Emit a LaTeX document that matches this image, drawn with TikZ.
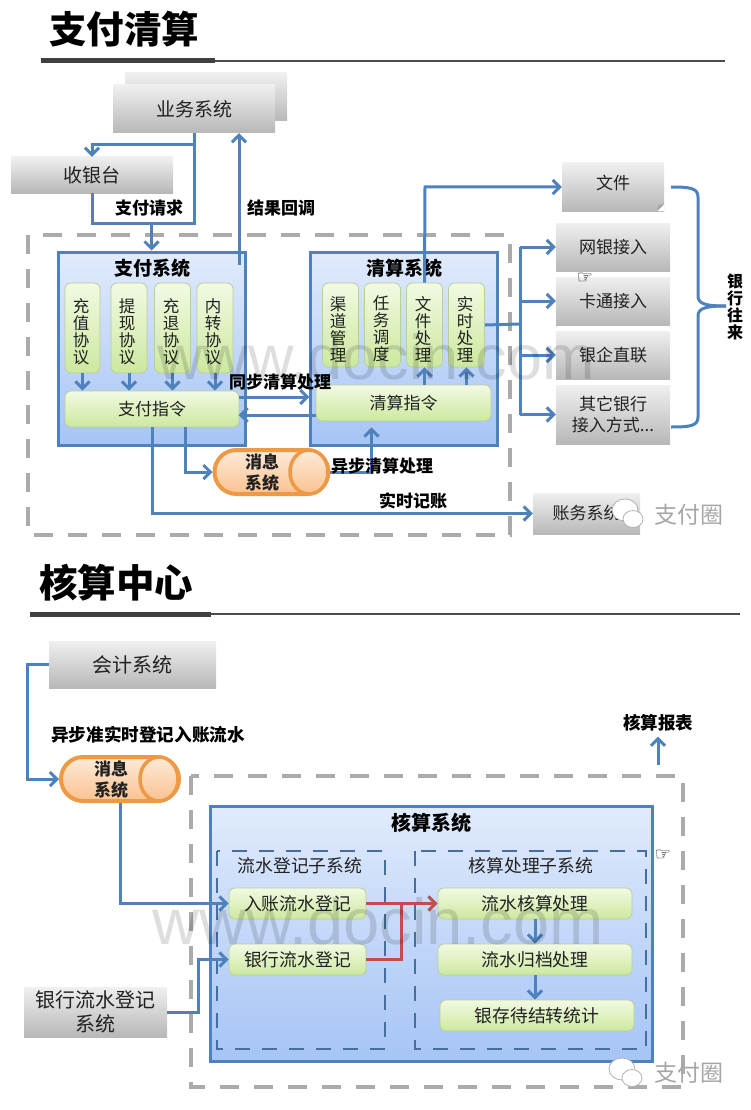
\documentclass[tikz,border=0pt]{standalone}
\usepackage{fontspec}
\setmainfont{Noto Sans CJK SC}
\newfontfamily\LATINFONT{Liberation Sans}
\newfontfamily\SYMFONT{DejaVu Sans}
\usetikzlibrary{arrows.meta,shapes.geometric}
\newcommand{\LINEPT}{3pt}
\newcommand{\FSIZE}[1]{\fontsize{#1}{#1}\selectfont}
\definecolor{myblue}{rgb}{0.31,0.51,0.74}
\definecolor{mydarkblue}{rgb}{0.27,0.44,0.62}
\definecolor{myred}{rgb}{0.75,0.31,0.30}
\definecolor{myorange}{rgb}{0.93,0.60,0.27}
\definecolor{mydash}{rgb}{0.67,0.67,0.67}
\definecolor{myink}{rgb}{0.13,0.13,0.13}
\definecolor{skytop}{rgb}{0.88,0.92,0.99}
\definecolor{skylow}{rgb}{0.65,0.77,0.96}
\definecolor{leaftop}{rgb}{0.95,0.98,0.89}
\definecolor{leaflow}{rgb}{0.80,0.91,0.62}
\definecolor{leafline}{rgb}{0.72,0.81,0.60}
\definecolor{peachtop}{rgb}{0.99,0.92,0.85}
\definecolor{peachlow}{rgb}{0.98,0.76,0.56}
\tikzset{
	boxsize/.style 2 args={minimum width=#1pt,minimum height=#2pt},
	graybox/.style={inner sep=0pt,align=center,text=myink,top color=white!94!black,bottom color=white!72!black},
	sysbox/.style={inner sep=0pt,draw=myblue,line width=3pt,top color=skytop,bottom color=skylow},
	greenbox/.style={inner sep=0pt,align=center,text=myink,rounded corners=6pt,draw=leafline,line width=0.8pt,top color=leaftop,bottom color=leaflow},
	stacktext/.style={inner sep=0pt,align=center,text=myink,font=\fontsize{16.5}{17}\selectfont},
	subdash/.style={draw=mydarkblue,line width=1.4pt,dash pattern=on 15pt off 12pt},
	outerdash/.style={draw=mydash,line width=4pt,dash pattern=on 19pt off 15pt},
	msgbody/.style={inner sep=0pt,rounded corners=22pt,draw=myorange,line width=4pt,top color=peachtop,bottom color=peachlow},
	msgend/.style={ellipse,inner sep=0pt,draw=myorange,line width=3.5pt,top color=peachtop,bottom color=peachlow},
	flow/.style={->,color=myblue,line width=\LINEPT,>={Straight Barb[length=7pt,width=14pt]}},
	redflow/.style={flow,color=myred},
	plainflow/.style={-,color=myblue,line width=\LINEPT},
	tag/.style={inner sep=0pt,font=\bfseries\FSIZE{17},text=black},
	mark text/.style={inner sep=0pt,text=black,text opacity=0.13,font=\LATINFONT\FSIZE{63}},
	wxring/.style={color=black!30,fill=white,line width=0.8pt},
	wxtext/.style={inner sep=0pt,font=\FSIZE{23},text=black!35},
}
\begin{document}
\begin{tikzpicture}[x=1pt,y=-1pt]
	\useasboundingbox (0,0) rectangle (750,1110);

	%% titles
	\node[inner sep=0pt,font=\bfseries\FSIZE{37.5}] (titlepay) at (124,29) {支付清算};
	\fill[color=black!75] (41,58.5) rectangle (215,63.5);
	\draw[color=black!70,line width=1.8pt] (215,61) -- (725,61);
	\node[inner sep=0pt,font=\bfseries\FSIZE{38.5}] (titleacct) at (116,583) {核算中心};
	\fill[color=black!75] (30,611.5) rectangle (211,616.5);
	\draw[color=black!70,line width=1.8pt] (211,614) -- (740,614);

	%% dashed frames
	\draw[outerdash] (28,235) rectangle (510,535);
	\draw[outerdash] (191,776) rectangle (683,1087);

	%% upper part
	\node[graybox,boxsize={162}{48}] (bizback) at (206,97) {};
	\node[graybox,boxsize={162}{48},font=\FSIZE{19}] (biz) at (194,109) {业务系统};
	\node[graybox,boxsize={162}{36},font=\FSIZE{19}] (cashier) at (92,175) {收银台};

	\node[sysbox,boxsize={187}{193}] (paysys) at (151.5,348.5) {};
	\node[tag,font=\bfseries\FSIZE{19}] (paytitle) at (152,268) {支付系统};
	\node[greenbox,boxsize={35}{90}] (proto1) at (82.5,328) {};
	\node[greenbox,boxsize={36}{90}] (proto2) at (129,328) {};
	\node[greenbox,boxsize={36}{90}] (proto3) at (172.5,328) {};
	\node[greenbox,boxsize={36}{90}] (proto4) at (215,328) {};
	\node[stacktext] (proto1text) at (81,332) {充\\值\\协\\议};
	\node[stacktext] (proto2text) at (127,332) {提\\现\\协\\议};
	\node[stacktext] (proto3text) at (171,332) {充\\退\\协\\议};
	\node[stacktext] (proto4text) at (213,332) {内\\转\\协\\议};
	\node[greenbox,boxsize={174}{36},font=\FSIZE{17}] (paycmd) at (152,409) {支付指令};

	\node[sysbox,boxsize={187}{193}] (clearsys) at (403.5,348.5) {};
	\node[tag,font=\bfseries\FSIZE{19}] (cleartitle) at (404,268) {清算系统};
	\node[greenbox,boxsize={36}{84}] (proto5) at (340.5,325) {};
	\node[greenbox,boxsize={36}{84}] (proto6) at (382.5,325) {};
	\node[greenbox,boxsize={36}{84}] (proto7) at (424.5,325) {};
	\node[greenbox,boxsize={36}{84}] (proto8) at (466.5,325) {};
	\node[stacktext] (proto5text) at (338,329) {渠\\道\\管\\理};
	\node[stacktext] (proto6text) at (381,329) {任\\务\\调\\度};
	\node[stacktext] (proto7text) at (423,329) {文\\件\\处\\理};
	\node[stacktext] (proto8text) at (465,329) {实\\时\\处\\理};
	\node[greenbox,boxsize={175}{36},font=\FSIZE{17}] (clearcmd) at (403.5,403) {清算指令};

	\node[msgbody,boxsize={114}{44}] (msgA) at (271.5,472) {};
	\node[msgend,boxsize={38}{44}] (msgAend) at (309,472) {};
	\node[inner sep=0pt,align=center,font=\bfseries\FSIZE{17},text=myink] (msgAtext) at (262,473) {消息\\[4pt]系统};

	\node[graybox,boxsize={102}{48}] (filebox) at (613,187) {};
	\node[inner sep=0pt,text=myink,font=\FSIZE{17}] (filetext) at (613,183) {文件};
	\fill[color=white] ([xshift=-7pt]filebox.south east) -- (filebox.south east) -- ([yshift=7pt]filebox.south east) -- cycle;
	\fill[color=black!35] ([xshift=-7pt]filebox.south east) -- ([xshift=-6pt,yshift=6pt]filebox.south east) -- ([yshift=7pt]filebox.south east) -- cycle;
	\node[graybox,boxsize={114}{48},font=\FSIZE{17}] (bankA) at (613,247) {网银接入};
	\node[graybox,boxsize={114}{48},font=\FSIZE{17}] (bankB) at (613,301) {卡通接入};
	\node[graybox,boxsize={114}{48},font=\FSIZE{17}] (bankC) at (613,355) {银企直联};
	\node[graybox,boxsize={114}{59},font=\FSIZE{17}] (bankD) at (613,414.5) {其它银行\\[4pt]接入方式...};
	\node[graybox,boxsize={107}{41},font=\FSIZE{17}] (ledger) at (586.5,513.5) {账务系统};

	%%
	\coordinate (cbfoot) at (239,265);
	\coordinate (cashjoin) at (194,223);
	\coordinate (hub) at (520,324);
	\coordinate (filebend) at (425,187);

	\draw[flow] (biz.south) -- (194,145) -| (cashier.north);
	\draw[plainflow] (biz.south) -- (cashjoin) -| (cashier.south);
	\draw[flow] (paysys.north |- cashjoin) -- (paysys.north);
	\draw[flow] (cbfoot) -- (cbfoot |- biz.south);
	\foreach \i in {1,2,3,4}
		\draw[flow] (proto\i.south) -- (proto\i.south |- paycmd.north);
	\draw[flow] (proto7.south |- clearcmd.north) -- (proto7.south);
	\draw[flow] (proto8.south |- clearcmd.north) -- (proto8.south);
	\draw[flow] ([yshift=12pt]paycmd.east) -- ++(70,0);
	\draw[flow] ([yshift=-12pt]clearcmd.west) -- ++(-77,0);
	\draw[flow] ([xshift=33pt]paycmd.south) |- (msgA.west);
	\draw[flow,shorten >=6pt] (msgAend.east) -| ([xshift=-32pt]clearcmd.south);
	\draw[flow] (paycmd.south) |- (ledger.west);
	\draw[flow] (proto7.north) -- (filebend) -- (filebox.west |- filebend);
	\draw[plainflow] (proto8.east) -- (hub);
	\draw[plainflow] (hub |- bankA.west) -- (hub |- bankD.west);
	\foreach \b in {bankA,bankB,bankC,bankD}
		\draw[flow] (hub |- \b.west) -- (\b.west);

	\node[tag] (reqtag) at (149,208) {支付请求};
	\node[tag] (cbtag) at (281,208) {结果回调};
	\node[tag] (synctag) at (280,382) {同步清算处理};
	\node[tag] (asynctag) at (382,466) {异步清算处理};
	\node[tag] (rttag) at (413,501) {实时记账};

	%% brace
	\coordinate (bracetop) at (671,187);
	\coordinate (bracetip) at (726,306);
	\coordinate (bracelow) at (671,427);
	\draw[plainflow] (bracetop) .. controls (690,187) and (698,188) .. (698,197) -- (698,296) .. controls (698,304) and (706,306) .. (bracetip);
	\draw[plainflow] (bracelow) .. controls (690,427) and (698,426) .. (698,417) -- (698,316) .. controls (698,308) and (706,306) .. (bracetip);
	\node[inner sep=0pt,align=center,font=\bfseries\fontsize{16}{16.8}\selectfont] (banktag) at (735,307) {银\\行\\往\\来};

	%% lower part
	\node[graybox,boxsize={167}{47},font=\FSIZE{20}] (acct) at (132.5,664.5) {会计系统};
	\node[tag,font=\bfseries\FSIZE{17.6}] (logtag) at (148,735) {异步准实时登记入账流水};
	\node[msgbody,boxsize={118}{44}] (msgB) at (120,779) {};
	\node[msgend,boxsize={38}{44}] (msgBend) at (159,779) {};
	\node[inner sep=0pt,align=center,font=\bfseries\FSIZE{17},text=myink] (msgBtext) at (111,780) {消息\\[4pt]系统};
	\node[graybox,boxsize={143}{50},font=\FSIZE{20}] (bankfeed) at (95.5,1012) {银行流水登记\\[4pt]系统};

	\node[sysbox,boxsize={442}{255}] (acctsys) at (431,934) {};
	\node[tag,font=\bfseries\FSIZE{20}] (accttitle) at (431,823) {核算系统};
	\draw[subdash] (217,851) rectangle (385,1049);
	\draw[subdash] (415,851) rectangle (646,1049);
	\node[inner sep=0pt,font=\FSIZE{17.8},text=myink] (subAtitle) at (300,866) {流水登记子系统};
	\node[inner sep=0pt,font=\FSIZE{17.8},text=myink] (subBtitle) at (531,866) {核算处理子系统};
	\node[greenbox,boxsize={137}{31},font=\FSIZE{17.8}] (entry) at (297.5,903.5) {入账流水登记};
	\node[greenbox,boxsize={137}{31},font=\FSIZE{17.8}] (bankflow) at (297.5,959.5) {银行流水登记};
	\node[greenbox,boxsize={194}{31},font=\FSIZE{17.8}] (flowcalc) at (535,903.5) {流水核算处理};
	\node[greenbox,boxsize={194}{31},font=\FSIZE{17.8}] (flowfile) at (535,959.5) {流水归档处理};
	\node[greenbox,boxsize={194}{31},font=\FSIZE{17.8}] (flowstat) at (537,1015.5) {银存待结转统计};
	\node[tag,font=\bfseries\FSIZE{17.5}] (report) at (658,723) {核算报表};

	%%
	\coordinate (msgin) at (27,779);
	\coordinate (reportfoot) at (658,765);
	\coordinate (redjoin) at (401,903.5);

	\draw[flow] (acct.west) -| (msgin) -- (msgB.west);
	\draw[flow] (msgB.south) |- (entry.west);
	\draw[flow] (bankfeed.east) -- ++(31,0) |- (bankflow.west);
	\draw[redflow] (entry.east) -- (flowcalc.west);
	\draw[-,color=myred,line width=\LINEPT] (bankflow.east) -| (redjoin);
	\draw[flow] (flowcalc.south) -- (flowfile.north);
	\draw[flow] (flowfile.south) -- (flowfile.south |- flowstat.north);
	\draw[flow,shorten >=5pt] (reportfoot) -- (report.south);

	%% marks on top
	\node[mark text] (markA) at (376,357) {www.docin.com};
	\node[mark text,font=\LATINFONT\FSIZE{65}] (markB) at (378,921) {www.docin.com};
	\node[inner sep=0pt,font=\SYMFONT\FSIZE{18}] (handA) at (585,278) {☞};
	\node[inner sep=0pt,font=\SYMFONT\FSIZE{18}] (handB) at (663,855) {☞};

	\draw[wxring] (625,510) ellipse (13 and 11);
	\draw[wxring] (633,519) ellipse (10 and 8.5);
	\node[wxtext] (wxA) at (689,515) {支付圈};
	\draw[wxring] (622,1069) ellipse (13 and 11);
	\draw[wxring] (632,1078) ellipse (10 and 8.5);
	\node[wxtext] (wxB) at (689,1073) {支付圈};
\end{tikzpicture}
\end{document}
